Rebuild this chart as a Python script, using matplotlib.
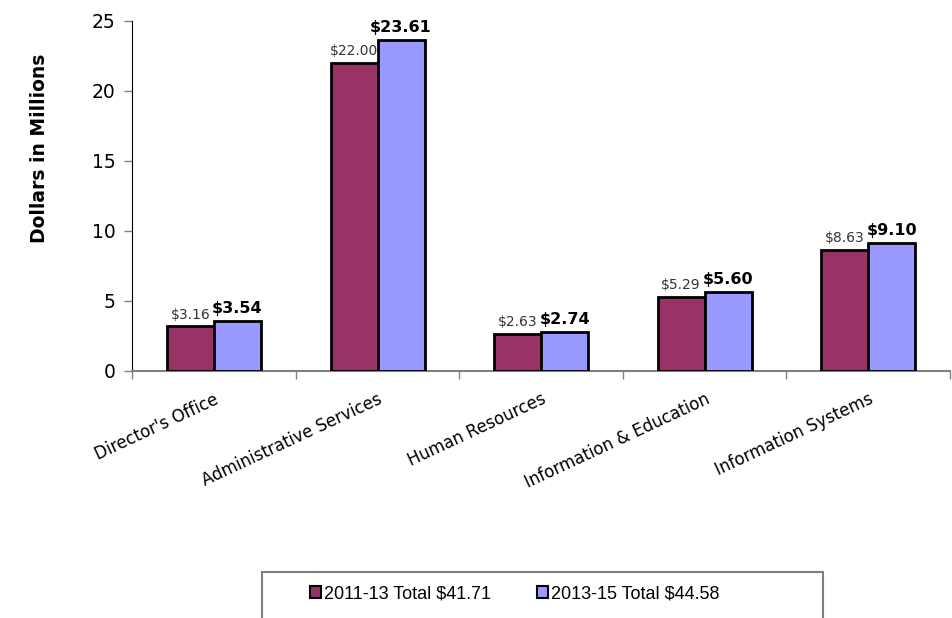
import numpy as np
import matplotlib
matplotlib.use("Agg")
import matplotlib.pyplot as plt
from matplotlib.patches import Rectangle

categories = ["Director's Office", "Administrative Services", "Human Resources",
              "Information & Education", "Information Systems"]
vals_1113 = [3.16, 22.00, 2.63, 5.29, 8.63]
vals_1315 = [3.54, 23.61, 2.74, 5.60, 9.10]
series_names = ["2011-13 Total $41.71", "2013-15 Total $44.58"]
yticks = [0, 5, 10, 15, 20, 25]

plt.rcParams['font.family'] = ['DejaVu Sans']

W, H = 953, 618
fig = plt.figure(figsize=(W / 100, H / 100), dpi=100)
ax = fig.add_axes([0.1388, 0.4002, 0.858, 0.5663])

x = np.arange(len(categories))
w = 0.287
b1 = ax.bar(x - w / 2, vals_1113, w, color='#993366', edgecolor='black', linewidth=2,
            label=series_names[0], zorder=3)
b2 = ax.bar(x + w / 2, vals_1315, w, color='#9999FF', edgecolor='black', linewidth=2,
            label=series_names[1], zorder=3)

for xi, v in zip(x, vals_1113):
    ax.text(xi - w / 2, v + 0.35, f"${v:.2f}", ha='center', va='bottom',
            fontsize=10, color='#333333')
for xi, v in zip(x, vals_1315):
    ax.text(xi + w / 2, v + 0.35, f"${v:.2f}", ha='center', va='bottom',
            fontsize=11.5, fontweight='bold', color='black')

ax.set_xlim(-0.5, len(categories) - 0.5)
ax.set_ylim(0, 25)
ax.set_yticks(yticks)
ax.tick_params(axis='y', labelsize=13.5, color='#808080', length=6, width=1, pad=6)
ax.set_xticks(np.arange(len(categories) + 1) - 0.5)
ax.set_xticklabels([])
ax.set_xticks(x, minor=True)
ax.set_xticklabels(categories, minor=True, rotation=25, ha='right',
                   rotation_mode='anchor', fontsize=12)
ax.tick_params(axis='x', which='major', color='#808080', length=6, width=1)
ax.tick_params(axis='x', which='minor', length=0, pad=14)

for s in ['top', 'right']:
    ax.spines[s].set_visible(False)
ax.spines['left'].set_color('black')
ax.spines['bottom'].set_color('#808080')
ax.spines['bottom'].set_linewidth(1.5)

fig.text(40 / W, 1 - 148 / H, "Dollars in Millions", rotation=90, ha='center', va='center',
         fontsize=13.5, fontweight='bold')

# legend box, running off the bottom edge as in the original
fig.patches.append(Rectangle((262 / W, -0.05), 561 / W, 0.05 + (H - 572) / H,
                             transform=fig.transFigure, fill=False,
                             edgecolor='#808080', linewidth=1.5))
leg = fig.legend(handles=[b1, b2], labels=series_names, ncol=2,
                 loc='center left', bbox_to_anchor=(310 / W, 1 - 594 / H),
                 frameon=False, borderpad=0, borderaxespad=0,
                 handlelength=0.6, handleheight=0.6, handletextpad=0.15,
                 columnspacing=2.6,
                 prop={'family': 'Liberation Sans', 'size': 13})
for h in leg.legend_handles:
    h.set_linewidth(1.5)

fig.savefig("out.png", dpi=100)
